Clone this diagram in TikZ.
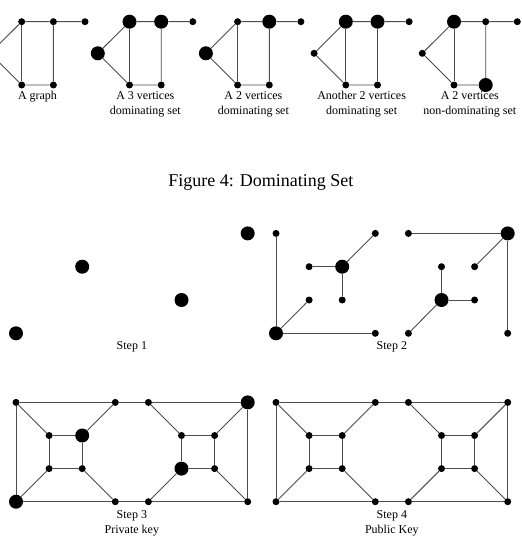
\documentclass[tikz,border=0pt]{standalone}
\usepackage{fontspec}
\setmainfont{Liberation Serif}

\begin{document}
\begin{tikzpicture}[x=1pt, y=-1pt,
    vtx/.style={circle, fill=black, inner sep=0pt, minimum size=#1},
    vtx/.default=7pt,
    big/.style={vtx=14pt},
    edge/.style={draw=black!70, line width=0.9pt},
    lbl/.style={font=\fontsize{12}{15}\selectfont, align=center, inner sep=0pt}]
  \useasboundingbox (0, 0) rectangle (521, 545);
  \clip (0, 0) rectangle (521, 545);

  % top row: a graph and four choices of vertices
  % (label sits on the baseline of its last line)
  \foreach \g/\ox/\ra/\rb/\rc/\rd/\ly/\txt in {
      1/21.7/7pt/7pt/7pt/7pt/100/{A graph},
      2/129.5/14pt/14pt/14pt/7pt/115/{A 3 vertices\\dominating set},
      3/237.6/14pt/7pt/14pt/7pt/115/{A 2 vertices\\dominating set},
      4/345.8/7pt/14pt/14pt/7pt/115/{Another 2 vertices\\dominating set},
      5/454/7pt/14pt/7pt/14pt/115/{A 2 vertices\\non-dominating set}} {
    \node[vtx=\ra] (l\g)  at (\ox - 31.7, 53.3) {};
    \node[vtx=\rb] (tl\g) at (\ox, 21.7) {};
    \node[vtx=\rc] (tr\g) at (\ox + 31.7, 21.7) {};
    \node[vtx]     (p\g)  at (\ox + 63.3, 21.7) {};
    \node[vtx]     (bl\g) at (\ox, 85) {};
    \node[vtx=\rd] (br\g) at (\ox + 31.7, 85) {};
    \draw[edge] (l\g) -- (tl\g) -- (tr\g) -- (p\g);
    \draw[edge] (l\g) -- (bl\g) -- (br\g) -- (tr\g);
    \draw[edge] (tl\g) -- (bl\g);
    \node[lbl, anchor=base] (lab\g) at (\ox + 15.8, \ly) {\txt};
  }

  \node[font=\fontsize{18}{22}\selectfont, anchor=base] (fig)
    at (260.8, 186) {Figure 4: Dominating Set};

  % step 1
  \begin{scope}[shift={(16, 333.3)}, x=33.1pt, y=33.3pt]
    \foreach \i/\j in {0/0, 2/2, 5/1, 7/3}
      \node[big] (s1-\i\j) at (\i, \j) {};
    \node[lbl, anchor=base] (cap1) at ([yshift=-16pt] 3.5, 0) {Step 1};
  \end{scope}

  % step 2
  \begin{scope}[shift={(276, 333.3)}, x=33.1pt, y=33.3pt]
    \foreach \i/\j in {0/0, 2/2, 5/1, 7/3}
      \node[big] (s2-\i\j) at (\i, \j) {};
    \foreach \i/\j in {0/3, 1/1, 3/0, 1/2, 2/1, 3/3, 4/3, 6/2, 7/0, 5/2, 6/1, 4/0}
      \node[vtx] (s2-\i\j) at (\i, \j) {};
    \foreach \a/\b in {00/03, 00/30, 00/11, 22/12, 22/21, 22/33,
                       73/43, 73/70, 73/62, 51/52, 51/61, 51/40}
      \draw[edge] (s2-\a) -- (s2-\b);
    \node[lbl, anchor=base] (cap2) at ([yshift=-16pt] 3.5, 0) {Step 2};
  \end{scope}

  % step 3
  \begin{scope}[shift={(16, 501.7)}, x=33.1pt, y=33.1pt]
    \foreach \i/\j in {0/0, 2/2, 5/1, 7/3}
      \node[big] (s3-\i\j) at (\i, \j) {};
    \foreach \i/\j in {3/0, 4/0, 7/0, 0/3, 3/3, 4/3, 1/1, 2/1, 1/2, 6/1, 6/2, 5/2}
      \node[vtx] (s3-\i\j) at (\i, \j) {};
    \node[lbl, anchor=base] (cap3) at ([yshift=-31.3pt] 3.5, 0) {Step 3\\Private key};
  \end{scope}

  % step 4
  \begin{scope}[shift={(276, 501.7)}, x=33.1pt, y=33.1pt]
    \foreach \i/\j in {0/0, 3/0, 4/0, 7/0, 0/3, 3/3, 4/3, 7/3,
                       1/1, 2/1, 1/2, 2/2, 5/1, 6/1, 5/2, 6/2}
      \node[vtx] (s4-\i\j) at (\i, \j) {};
    \node[lbl, anchor=base] (cap4) at ([yshift=-31.3pt] 3.5, 0) {Step 4\\Public Key};
  \end{scope}

  \foreach \s in {3, 4}
    \foreach \a/\b in {00/30, 30/40, 40/70, 03/33, 33/43, 43/73, 00/03, 70/73,
                       11/21, 21/22, 22/12, 12/11, 03/12, 33/22, 00/11, 30/21,
                       51/61, 61/62, 62/52, 52/51, 43/52, 73/62, 40/51, 70/61}
      \draw[edge] (s\s-\a) -- (s\s-\b);
\end{tikzpicture}
\end{document}
